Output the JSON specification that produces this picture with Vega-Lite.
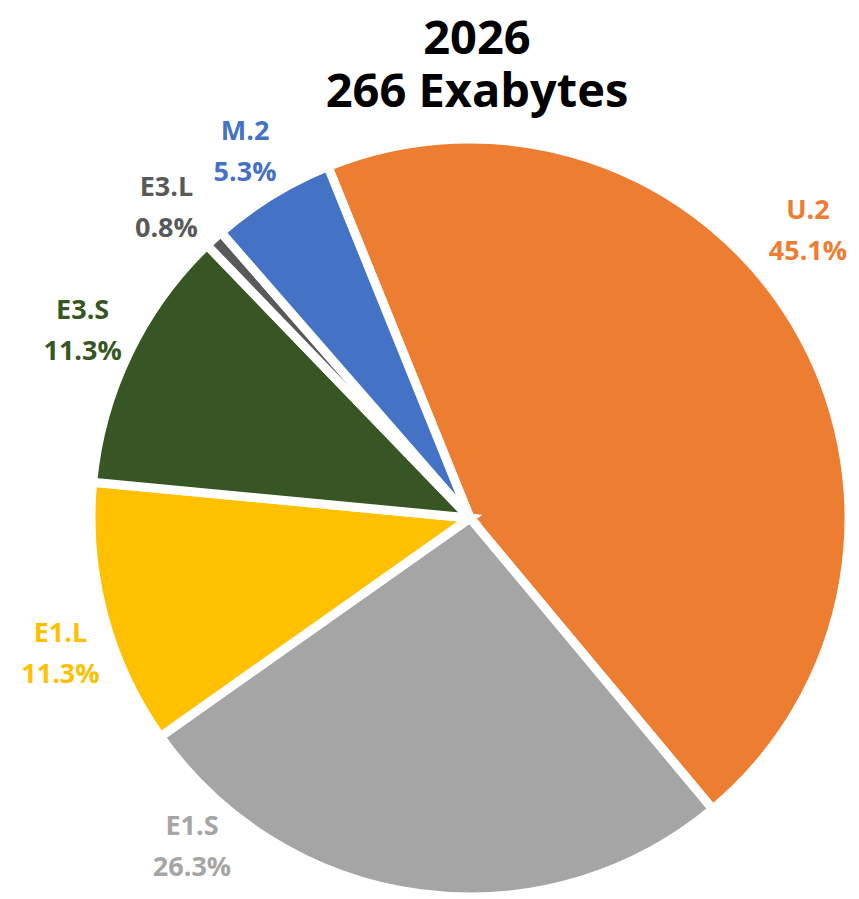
{
  "$schema": "https://vega.github.io/schema/vega-lite/v6.json",
  "width": 778,
  "height": 762,
  "autosize": {"type": "none"},
  "padding": {"left": 81, "top": 137, "right": 0, "bottom": 0},
  "background": "white",
  "title": {
    "text": ["2026", "266 Exabytes"],
    "font": "Open Sans",
    "fontSize": 47,
    "fontWeight": "bold",
    "color": "black",
    "lineHeight": 53,
    "anchor": "middle",
    "offset": -96,
    "dx": 7
  },
  "config": {"view": {"stroke": null}},
  "data": {
    "values": [
      {"n": 1, "type": "U.2", "share": 45.1, "label": "U.2\n45.1%"},
      {"n": 2, "type": "E1.S", "share": 26.3, "label": "E1.S\n26.3%"},
      {"n": 3, "type": "E1.L", "share": 11.3, "label": "E1.L\n11.3%"},
      {"n": 4, "type": "E3.S", "share": 11.3, "label": "E3.S\n11.3%"},
      {"n": 5, "type": "E3.L", "share": 0.8, "label": "E3.L\n0.8%"},
      {"n": 6, "type": "M.2", "share": 5.3, "label": "M.2\n5.3%"}
    ]
  },
  "encoding": {
    "theta": {"field": "share", "type": "quantitative", "stack": true, "scale": {"range": [-0.384, 5.899]}},
    "order": {"field": "n", "type": "quantitative"},
    "color": {
      "field": "type",
      "type": "nominal",
      "scale": {
        "domain": ["U.2", "E1.S", "E1.L", "E3.S", "E3.L", "M.2"],
        "range": ["#ED7D31", "#A5A5A5", "#FFC000", "#375623", "#595959", "#4472C4"]
      },
      "legend": null
    }
  },
  "layer": [
    {"mark": {"type": "arc", "outerRadius": 379, "stroke": "white", "strokeWidth": 9}},
    {
      "mark": {"type": "text", "radius": 430, "dy": -20, "font": "Open Sans", "fontSize": 27, "fontWeight": "bold", "lineBreak": "\n", "lineHeight": 41},
      "encoding": {"text": {"condition": {"test": "datum.type === 'M.2' || datum.type === 'E3.S'", "field": "label", "type": "nominal"}, "value": ""}}
    },
    {
      "mark": {"type": "text", "radius": 430, "dx": -13, "dy": -13, "font": "Open Sans", "fontSize": 27, "fontWeight": "bold", "lineBreak": "\n", "lineHeight": 41},
      "encoding": {"text": {"condition": {"test": "datum.type === 'E3.L'", "field": "label", "type": "nominal"}, "value": ""}}
    },
    {
      "mark": {"type": "text", "radius": 430, "dx": -31, "dy": -86, "font": "Open Sans", "fontSize": 27, "fontWeight": "bold", "lineBreak": "\n", "lineHeight": 41},
      "encoding": {"text": {"condition": {"test": "datum.type === 'U.2'", "field": "label", "type": "nominal"}, "value": ""}}
    },
    {
      "mark": {"type": "text", "radius": 430, "dx": -222, "dy": -117, "font": "Open Sans", "fontSize": 27, "fontWeight": "bold", "lineBreak": "\n", "lineHeight": 41},
      "encoding": {"text": {"condition": {"test": "datum.type === 'E1.S'", "field": "label", "type": "nominal"}, "value": ""}}
    },
    {
      "mark": {"type": "text", "radius": 430, "dx": 6, "dy": 5, "font": "Open Sans", "fontSize": 27, "fontWeight": "bold", "lineBreak": "\n", "lineHeight": 41},
      "encoding": {"text": {"condition": {"test": "datum.type === 'E1.L'", "field": "label", "type": "nominal"}, "value": ""}}
    }
  ]
}
